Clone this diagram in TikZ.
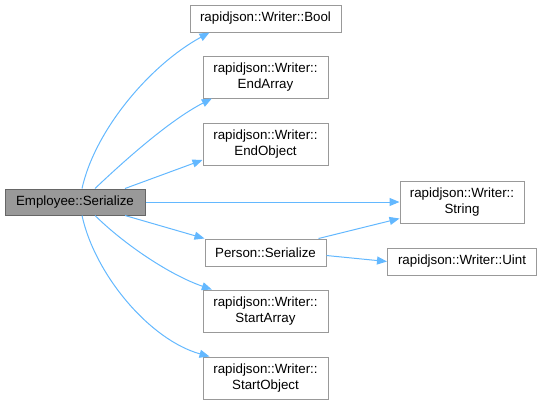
\documentclass[tikz,border=0pt]{standalone}
\usepackage{fontspec}
\setmainfont{Liberation Sans}
\usetikzlibrary{arrows.meta}
\definecolor{edgeblue}{HTML}{63B8FF}
\definecolor{boxgray}{HTML}{999999}
\definecolor{darkgray}{HTML}{666666}
\tikzset{
  fn/.style={draw=boxgray, fill=white, line width=0.75pt, inner sep=0pt, align=center,
    font=\fontsize{10}{11.5}\selectfont},
  cur/.style={fn, draw=darkgray, fill=boxgray},
  call/.style={draw=edgeblue, line width=0.75pt, -{Triangle[length=7.5pt,width=6pt]}, edgeblue}
}
\begin{document}
\begin{tikzpicture}[x=0.75pt,y=-0.75pt]
\useasboundingbox (0,0) rectangle (542,405);
\node[cur, minimum width=105pt, minimum height=19.5pt] (emp) at (75,202) {Employee::Serialize};
\node[fn, minimum width=113.25pt, minimum height=20.25pt] (bool) at (265.5,18.5) {rapidjson::Writer::Bool};
\node[fn, minimum width=93.75pt, minimum height=31.5pt] (endarray) at (265.5,77) {rapidjson::Writer::\\EndArray};
\node[fn, minimum width=93.75pt, minimum height=31.5pt] (endobject) at (265.5,144) {rapidjson::Writer::\\EndObject};
\node[fn, minimum width=90.75pt, minimum height=20.25pt] (person) at (265.5,252.5) {Person::Serialize};
\node[fn, minimum width=93.75pt, minimum height=31.5pt] (startarray) at (265.5,311) {rapidjson::Writer::\\StartArray};
\node[fn, minimum width=93.75pt, minimum height=31.5pt] (startobject) at (265.5,378) {rapidjson::Writer::\\StartObject};
\node[fn, minimum width=93pt, minimum height=31.5pt] (string) at (462,202) {rapidjson::Writer::\\String};
\node[fn, minimum width=111.75pt, minimum height=20.25pt] (uint) at (462,261.5) {rapidjson::Writer::Uint};

\draw[call] ([xshift=5.25pt]emp.north) .. controls (95,130) and (150,65) .. ([xshift=15pt]bool.south west);
\draw[call] ([xshift=15pt]emp.north) .. controls (125,160) and (170,120) .. ([xshift=7pt]endarray.south west);
\draw[call] ([xshift=37.5pt]emp.north) -- ([yshift=-12pt]endobject.west);
\draw[call] (emp.east) -- (string.west);
\draw[call] ([xshift=37.5pt]emp.south) -- (person.north west);
\draw[call] ([xshift=15pt]emp.south) .. controls (125,245) and (170,275) .. ([xshift=7pt]startarray.north west);
\draw[call] ([xshift=5.25pt]emp.south) .. controls (95,275) and (150,340) .. ([xshift=5.25pt]startobject.north west);
\draw[call] ([xshift=-6pt]person.north east) -- ([yshift=3.75pt]string.south west);
\draw[call] ([yshift=-2.25pt]person.east) -- (uint.west);
\end{tikzpicture}
\end{document}
